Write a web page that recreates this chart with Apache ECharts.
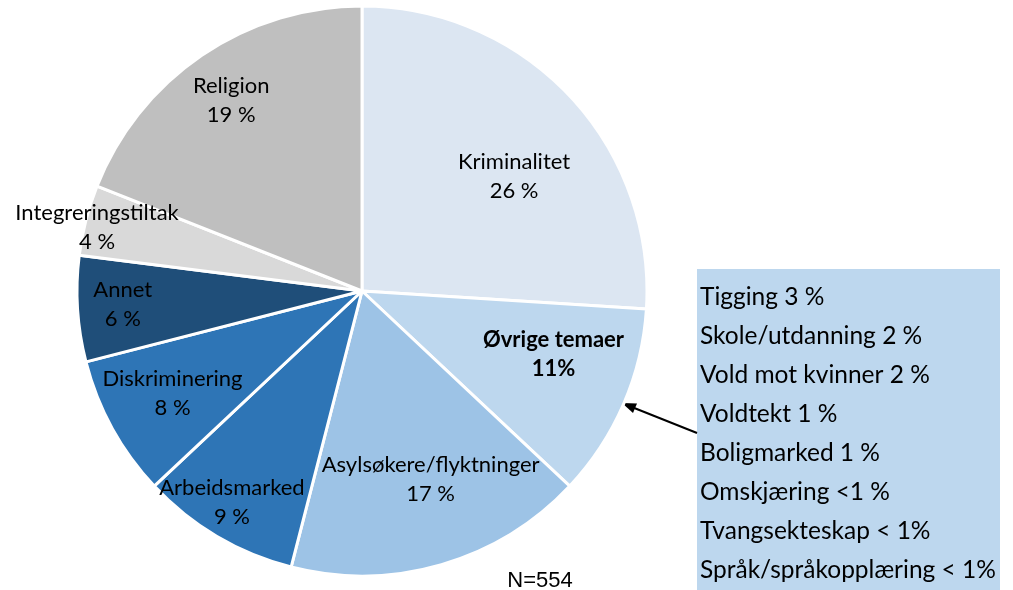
<!DOCTYPE html>
<html>
<head>
<meta charset="utf-8">
<script src="https://cdn.jsdelivr.net/npm/echarts@6/dist/echarts.min.js"></script>
<style>
  html, body { margin: 0; padding: 0; background: #fff; }
  #main { width: 1013px; height: 590px; }
</style>
</head>
<body>
<div id="main"></div>
<script>
// temaer i artikler
var categories = ['Kriminalitet', 'Øvrige temaer', 'Asylsøkere/flyktninger', 'Arbeidsmarked',
  'Diskriminering', 'Annet', 'Integreringstiltak', 'Religion'];
var values = [26, 11, 17, 9, 8, 6, 4, 19];
var colors = ['#dce6f2', '#bdd7ee', '#9dc3e6', '#2e75b6', '#2e75b6', '#1f4e79', '#d9d9d9', '#bfbfbf'];
// flytter etikettene dit de står i originalen
var labelOffsets = [[46, -15], [58, 6], [28, 49], [-56, 86], [-62, 32], [-94, 4], [-124, -27], [-49, -70]];

var ovrigeItems = ['Tigging 3 %', 'Skole/utdanning 2 %', 'Vold mot kvinner 2 %', 'Voldtekt 1 %',
  'Boligmarked 1 %', 'Omskjæring <1 %', 'Tvangsekteskap < 1%', 'Språk/språkopplæring < 1%'];
var nText = 'N=554';

var fontName = 'Lato';

var pieData = [];
for (var i = 0; i < categories.length; i++) {
  var bold = categories[i] == 'Øvrige temaer';
  pieData.push({
    name: categories[i],
    value: values[i],
    itemStyle: { color: colors[i] },
    label: {
      offset: labelOffsets[i],
      fontWeight: bold ? 'bold' : 'normal',
      formatter: bold ? '{b}\n{c}%' : '{b}\n{c} %'
    }
  });
}

var myChart = echarts.init(document.getElementById('main'));

var option = {
  animation: false,
  series: [
    {
      type: 'pie',
      center: [362, 291],
      radius: [0, 285],
      startAngle: 90,
      clockwise: true,
      data: pieData,
      itemStyle: {
        borderColor: '#ffffff',
        borderWidth: 3
      },
      label: {
        show: true,
        position: 'inside',
        color: '#000',
        fontFamily: fontName,
        fontSize: 22,
        lineHeight: 29
      },
      labelLine: { show: false },
      emphasis: { disabled: true }
    }
  ],
  graphic: [
    {
      type: 'rect',
      shape: { x: 697, y: 269, width: 303, height: 321 },
      style: { fill: '#bdd7ee' }
    },
    {
      type: 'text',
      x: 700,
      y: 278,
      style: {
        text: ovrigeItems.join('\n'),
        fill: '#000',
        font: '24.5px ' + fontName,
        lineHeight: 39,
        verticalAlign: 'top'
      }
    },
    {
      type: 'line',
      shape: { x1: 697, y1: 433, x2: 633, y2: 407.5 },
      style: { stroke: '#000', lineWidth: 2 }
    },
    {
      type: 'polygon',
      shape: { points: [[622, 403], [637, 403.5], [633, 413]] },
      style: { fill: '#000' }
    },
    {
      type: 'text',
      x: 540,
      y: 581,
      style: {
        text: nText,
        fill: '#000',
        font: '22px "Liberation Sans"',
        align: 'center',
        verticalAlign: 'middle'
      }
    }
  ]
};

myChart.setOption(option);
</script>
</body>
</html>
